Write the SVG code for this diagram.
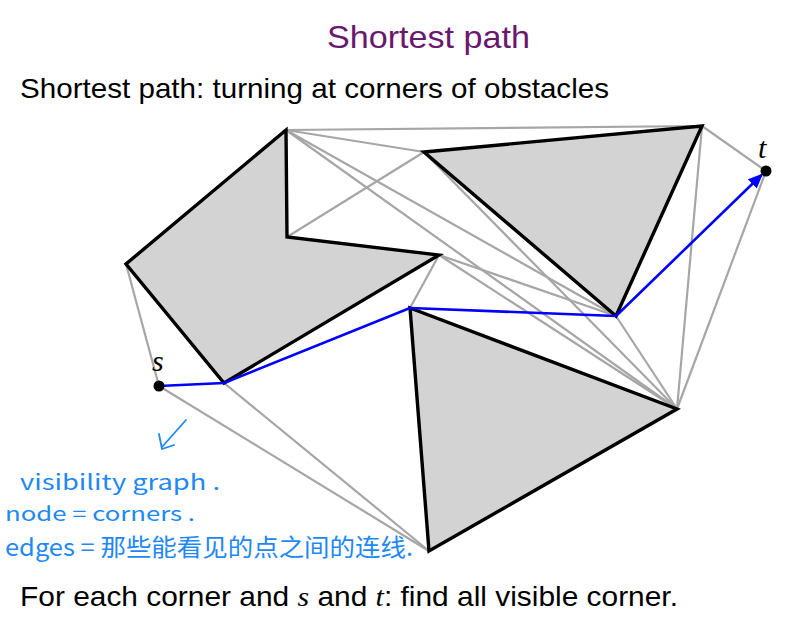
<svg xmlns="http://www.w3.org/2000/svg" width="803" height="630" viewBox="0 0 803 630">
<style>
.obs{fill:#d3d3d3;stroke:#000;stroke-width:3.4;stroke-linejoin:miter}
.vis{stroke:#a6a6a6;stroke-width:2.2;fill:none}
.path{stroke:#0000ff;stroke-width:2.6;fill:none;stroke-linejoin:round}
.txt{font-family:"Liberation Sans","DejaVu Sans",sans-serif;fill:#000}
.math{font-family:"Liberation Serif","DejaVu Serif",serif;font-style:italic}
.hand{font-family:"Noto Sans CJK SC","Noto Sans",sans-serif;fill:#1e88f5}
.pt{fill:#000}
</style>
<defs>
<marker id="arr" viewBox="0 0 14 12" refX="12" refY="6" markerWidth="15" markerHeight="13" markerUnits="userSpaceOnUse" orient="auto">
<path d="M0,0 L14,6 L0,12 z" fill="#0000ff"/>
</marker>
</defs>
<rect width="803" height="630" fill="#fff"/>
<text class="txt" x="327" y="48" font-size="32" style="fill:#6a176e" textLength="203" lengthAdjust="spacingAndGlyphs">Shortest path</text>
<text class="txt" x="20" y="98" font-size="28" textLength="589" lengthAdjust="spacingAndGlyphs">Shortest path: turning at corners of obstacles</text>
<g id="connectors">
<line class="vis" x1="286" y1="130" x2="702" y2="126"/>
<line class="vis" x1="286" y1="130" x2="424" y2="152"/>
<line class="vis" x1="286" y1="130" x2="616" y2="316"/>
<line class="vis" x1="286" y1="130" x2="677" y2="409"/>
<line class="vis" x1="287" y1="237" x2="424" y2="152"/>
<line class="vis" x1="424" y1="152" x2="677" y2="409"/>
<line class="vis" x1="439" y1="255" x2="616" y2="316"/>
<line class="vis" x1="439" y1="255" x2="677" y2="409"/>
<line class="vis" x1="439" y1="255" x2="410" y2="308"/>
<line class="vis" x1="616" y1="316" x2="677" y2="409"/>
<line class="vis" x1="702" y1="126" x2="677" y2="409"/>
<line class="vis" x1="702" y1="126" x2="766" y2="171"/>
<line class="vis" x1="766" y1="171" x2="677" y2="409"/>
<line class="vis" x1="126" y1="264" x2="159" y2="386"/>
<line class="vis" x1="159" y1="386" x2="429" y2="551"/>
<line class="vis" x1="224" y1="383" x2="429" y2="551"/>
</g>
<g id="obstacle1"><polygon class="obs" points="286,130 126,264 224,383 439,255 287,237"/></g>
<g id="obstacle2"><polygon class="obs" points="424,152 702,126 616,316"/></g>
<g id="obstacle3"><polygon class="obs" points="410,308 677,409 429,551"/></g>
<g id="shortest-path">
<path class="path" d="M159,386 L224,383 L410,308 L616,316 L761.5,175" marker-end="url(#arr)"/>
</g>
<g id="s"><circle class="pt" cx="159" cy="386" r="5.5"/><text class="math" x="152" y="371" font-size="30">s</text></g>
<g id="t"><circle class="pt" cx="766" cy="171" r="5.5"/><text class="math" x="758" y="158" font-size="30">t</text></g>
<g id="annotation">
<path d="M186,420 L162,447 M159,434 L162,449 L174,445" stroke="#1e88f5" stroke-width="1.8" fill="none" stroke-linecap="round" stroke-linejoin="round"/>
<text class="hand" x="20" y="490" font-size="21" textLength="200" lengthAdjust="spacingAndGlyphs">visibility graph .</text>
<text class="hand" x="5" y="521" font-size="20" textLength="190" lengthAdjust="spacingAndGlyphs">node = corners .</text>
<text class="hand" x="5" y="556" font-size="24" textLength="408" lengthAdjust="spacingAndGlyphs">edges = 那些能看见的点之间的连线.</text>
</g>
<text class="txt" x="20" y="606" font-size="28" textLength="658" lengthAdjust="spacingAndGlyphs">For each corner and <tspan class="math">s</tspan> and <tspan class="math">t</tspan>: find all visible corner.</text>
</svg>
